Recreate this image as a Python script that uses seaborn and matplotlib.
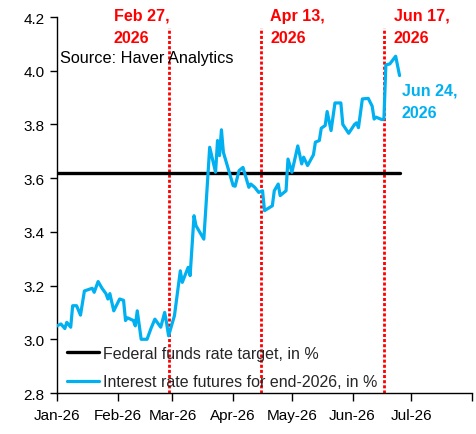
import matplotlib
matplotlib.use("Agg")
import matplotlib.pyplot as plt
import seaborn as sns
import pandas as pd

# futures-implied rate for end-2026
futures_dates = [
    "2026-01-01", "2026-01-03", "2026-01-05", "2026-01-06", "2026-01-08",
    "2026-01-09", "2026-01-11", "2026-01-13", "2026-01-15", "2026-01-19",
    "2026-01-20", "2026-01-22", "2026-01-24", "2026-01-26", "2026-01-27",
    "2026-01-28", "2026-01-30", "2026-02-02", "2026-02-04", "2026-02-05",
    "2026-02-06", "2026-02-09", "2026-02-10", "2026-02-11", "2026-02-13",
    "2026-02-16", "2026-02-18", "2026-02-20", "2026-02-23", "2026-02-25",
    "2026-02-26", "2026-02-27", "2026-03-02", "2026-03-05", "2026-03-06",
    "2026-03-09", "2026-03-10", "2026-03-12", "2026-03-13", "2026-03-17",
    "2026-03-18", "2026-03-20", "2026-03-23", "2026-03-24", "2026-03-25",
    "2026-03-26", "2026-03-27", "2026-04-01", "2026-04-02", "2026-04-04",
    "2026-04-06", "2026-04-09", "2026-04-10", "2026-04-12", "2026-04-14",
    "2026-04-16", "2026-04-17", "2026-04-21", "2026-04-22", "2026-04-24",
    "2026-04-25", "2026-04-28", "2026-04-29", "2026-05-01", "2026-05-04",
    "2026-05-06", "2026-05-07", "2026-05-09", "2026-05-12", "2026-05-13",
    "2026-05-15", "2026-05-16", "2026-05-18", "2026-05-19", "2026-05-21",
    "2026-05-23", "2026-05-26", "2026-05-27", "2026-05-30", "2026-06-02",
    "2026-06-03", "2026-06-04", "2026-06-06", "2026-06-09", "2026-06-11",
    "2026-06-12", "2026-06-13", "2026-06-16", "2026-06-17", "2026-06-18",
    "2026-06-20", "2026-06-23", "2026-06-25",
]
futures_values = [
    3.05, 3.057, 3.04, 3.063, 3.045,
    3.125, 3.125, 3.09, 3.18, 3.19,
    3.175, 3.215, 3.19, 3.17, 3.15,
    3.17, 3.106, 3.15, 3.145, 3.07,
    3.08, 3.07, 3.05, 3.106, 3.0,
    3.0, 3.04, 3.075, 3.045, 3.10,
    3.06, 3.013, 3.088, 3.255, 3.212,
    3.268, 3.237, 3.46, 3.423, 3.373,
    3.485, 3.715, 3.622, 3.74, 3.684,
    3.78, 3.696, 3.572, 3.57, 3.628,
    3.64, 3.566, 3.578, 3.566, 3.547,
    3.553, 3.479, 3.497, 3.553, 3.578,
    3.535, 3.553, 3.671, 3.622, 3.72,
    3.653, 3.678, 3.647, 3.687, 3.734,
    3.74, 3.786, 3.796, 3.848, 3.777,
    3.88, 3.88, 3.80, 3.767, 3.80,
    3.806, 3.788, 3.895, 3.897, 3.868,
    3.82, 3.827, 3.818, 3.82, 4.022,
    4.025, 4.054, 3.982,
]

fed_dates = ["2026-01-01", "2026-06-25"]
fed_values = [3.62, 3.62]

event_dates = ["2026-02-27", "2026-04-15", "2026-06-17"]
event_labels = ["Feb 27,\n2026", "Apr 13,\n2026", "Jun 17,\n2026"]
event_label_dates = ["2026-01-30", "2026-04-20", "2026-06-22"]

month_ticks = ["2026-01-01", "2026-02-01", "2026-03-01", "2026-04-01",
               "2026-05-01", "2026-06-01", "2026-07-01", "2026-08-01"]
month_labels = ["Jan-26", "Feb-26", "Mar-26", "Apr-26", "May-26", "Jun-26", "Jul-26", ""]

BLUE = "#00B0F0"
RED = "#FF0000"

sns.set_style("white")
plt.rcParams["font.family"] = ["Liberation Sans", "DejaVu Sans"]

fut = pd.DataFrame({"date": pd.to_datetime(futures_dates), "rate": futures_values})
fed = pd.DataFrame({"date": pd.to_datetime(fed_dates), "rate": fed_values})

fig = plt.figure(figsize=(4.77, 4.35), dpi=100)
ax = fig.add_axes([57 / 477, 41 / 435, 415 / 477, 376 / 435])

for d in event_dates:
    ax.plot([pd.Timestamp(d)] * 2, [2.8, 4.16], color=RED, lw=2.0,
            linestyle=(0, (1.1, 0.75)), zorder=1)

sns.lineplot(data=fed, x="date", y="rate", color="black", lw=2.4,
             label="Federal funds rate target, in %", ax=ax, zorder=2)
sns.lineplot(data=fut, x="date", y="rate", color=BLUE, lw=2.3,
             label="Interest rate futures for end-2026, in %", ax=ax, zorder=3)

ax.set_xlim(pd.Timestamp("2026-01-01"), pd.Timestamp("2026-08-01"))
ax.set_ylim(2.8, 4.2)
ax.set_yticks([2.8, 3.0, 3.2, 3.4, 3.6, 3.8, 4.0, 4.2])
ax.set_yticklabels([f"{v:.1f}" for v in ax.get_yticks()])
ax.set_xticks(pd.to_datetime(month_ticks))
ax.set_xticklabels(month_labels)
ax.set_xlabel("")
ax.set_ylabel("")

sns.despine(ax=ax)
for s in ["left", "bottom"]:
    ax.spines[s].set_color("black")
    ax.spines[s].set_linewidth(1.0)
ax.tick_params(axis="y", which="both", left=True, length=5, width=1.0,
               direction="out", pad=4, labelsize=11, colors="black")
ax.tick_params(axis="x", which="both", bottom=True, length=6, width=1.0,
               direction="out", pad=5, labelsize=11, colors="black")

for lab, d in zip(event_labels, event_label_dates):
    ax.text(pd.Timestamp(d), 1.025, lab, transform=ax.get_xaxis_transform(),
            color=RED, fontsize=11.6, fontweight="bold", ha="left", va="top",
            linespacing=1.6)

ax.text(pd.Timestamp("2026-06-26"), 3.955, "Jun 24,\n2026", color=BLUE,
        fontsize=11.6, fontweight="bold", ha="left", va="top", linespacing=1.6)

ax.text(0.007, 0.892, "Source: Haver Analytics", transform=ax.transAxes,
        fontsize=11.7, color="black", ha="left", va="center")

leg = ax.legend(loc="lower left", bbox_to_anchor=(0.0, -0.016), frameon=False,
                fontsize=11.5, handlelength=2.0, handletextpad=0.3,
                labelspacing=0.85, borderaxespad=0.2)

fig.savefig("out.png", dpi=100)
